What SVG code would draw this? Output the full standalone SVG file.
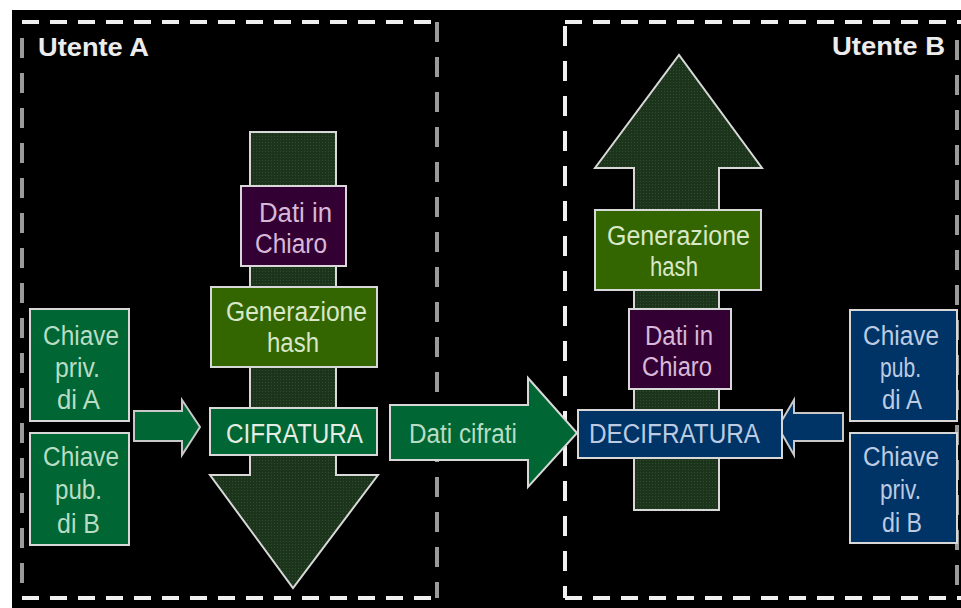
<svg xmlns="http://www.w3.org/2000/svg" width="961" height="608" viewBox="0 0 961 608">
<defs>
<pattern id="dots" width="3" height="3" patternUnits="userSpaceOnUse">
<rect width="3" height="3" fill="#1b341b"/>
<rect x="1" y="1" width="1" height="1" fill="#2e4e2e"/>
</pattern>
<style>
.bg{fill:#000}
.dh{stroke:#f0f0f0;stroke-width:4;stroke-dasharray:17 11;fill:none}
.dv{stroke-width:4;stroke-dasharray:20 15;fill:none}
.shaft{fill:url(#dots);stroke:#d8d8d8;stroke-width:2}
.box{stroke:#d8d8d8;stroke-width:2}
.green{fill:#006633}
.olive{fill:#336600}
.purple{fill:#330033}
.navy{fill:#003366}
.t{font-family:"Liberation Sans Narrow","Liberation Sans",Arial,sans-serif;font-size:27px}
.tg{fill:#b9dcc4}
.tw{fill:#e4ece4}
.to{fill:#d8e8c8}
.tp{fill:#d8b8d8}
.tn{fill:#bccbe2}
.title{font-family:"Liberation Sans",Arial,sans-serif;font-size:26px;font-weight:bold;fill:#ececec}
</style>
</defs>
<rect x="0" y="0" width="961" height="608" fill="#fff"/>
<rect class="bg" x="12" y="10" width="949" height="598"/>

<g id="utente-a">
<line class="dh" x1="22" y1="22" x2="437" y2="22"/>
<line class="dh" x1="22" y1="598" x2="437" y2="598"/>
<line class="dv" stroke="#9a9a9a" x1="22" y1="38" x2="22" y2="598"/>
<line class="dv" stroke="#9a9a9a" x1="437" y1="22" x2="437" y2="598"/>
<text class="title" x="38" y="56" textLength="111" lengthAdjust="spacingAndGlyphs">Utente A</text>
</g>

<g id="utente-b">
<line class="dh" x1="565" y1="22" x2="961" y2="22"/>
<line class="dh" x1="565" y1="598" x2="961" y2="598"/>
<line class="dv" stroke="#f0f0f0" x1="565" y1="26" x2="565" y2="598"/>
<line class="dv" stroke="#9a9a9a" x1="957" y1="40" x2="957" y2="598"/>
<text class="title" x="832" y="55" textLength="113" lengthAdjust="spacingAndGlyphs">Utente B</text>
</g>

<g id="connectors">
<path id="arrow-down" class="shaft" d="M250,132 H336 V475 H378 L293,588 L210,475 H250 Z"/>
<path id="arrow-up" class="shaft" d="M634,510 H719 V168 H762 L679,55 L595,168 H634 Z"/>
<path id="arrow-keys-a" class="green" stroke="#c8c8c8" stroke-width="2" d="M134,411 H182 V400 L200,427 L182,455 V441 H134 Z"/>
<path id="arrow-keys-b" class="navy" stroke="#c8c8c8" stroke-width="2" d="M843,413 H794 V400 L778,427 L794,455 V441 H843 Z"/>
</g>

<g id="dati-cifrati">
<path class="green" stroke="#d8d8d8" stroke-width="2" d="M390,405 H528 V378 L577,433 L528,487 V460 H390 Z"/>
<text class="t tg" x="409" y="443" textLength="108" lengthAdjust="spacingAndGlyphs">Dati cifrati</text>
</g>

<g id="dati-chiaro-a">
<rect class="box purple" x="241" y="186" width="105" height="80"/>
<text class="t tp" x="259" y="222" textLength="73" lengthAdjust="spacingAndGlyphs">Dati in</text>
<text class="t tp" x="255" y="253" textLength="72" lengthAdjust="spacingAndGlyphs">Chiaro</text>
</g>

<g id="hash-a">
<rect class="box olive" x="211" y="287" width="166" height="80"/>
<text class="t to" x="226" y="321" textLength="141" lengthAdjust="spacingAndGlyphs">Generazione</text>
<text class="t to" x="267" y="352" textLength="52" lengthAdjust="spacingAndGlyphs">hash</text>
</g>

<g id="cifratura">
<rect class="box green" x="210" y="408" width="167" height="47"/>
<text class="t tw" x="226" y="443" textLength="137" lengthAdjust="spacingAndGlyphs">CIFRATURA</text>
</g>

<g id="chiave-priv-a">
<rect class="box green" x="30" y="309" width="99" height="112"/>
<text class="t tg" x="43" y="345" textLength="76" lengthAdjust="spacingAndGlyphs">Chiave</text>
<text class="t tg" x="55" y="377" textLength="45" lengthAdjust="spacingAndGlyphs">priv.</text>
<text class="t tg" x="57" y="409" textLength="43" lengthAdjust="spacingAndGlyphs">di A</text>
</g>

<g id="chiave-pub-b">
<rect class="box green" x="30" y="433" width="99" height="112"/>
<text class="t tg" x="43" y="466" textLength="76" lengthAdjust="spacingAndGlyphs">Chiave</text>
<text class="t tg" x="55" y="499" textLength="47" lengthAdjust="spacingAndGlyphs">pub.</text>
<text class="t tg" x="57" y="533" textLength="43" lengthAdjust="spacingAndGlyphs">di B</text>
</g>

<g id="hash-b">
<rect class="box olive" x="595" y="210" width="166" height="80"/>
<text class="t to" x="607" y="245" textLength="143" lengthAdjust="spacingAndGlyphs">Generazione</text>
<text class="t to" x="650" y="276" textLength="48" lengthAdjust="spacingAndGlyphs">hash</text>
</g>

<g id="dati-chiaro-b">
<rect class="box purple" x="629" y="309" width="102" height="80"/>
<text class="t tp" x="645" y="345" textLength="68" lengthAdjust="spacingAndGlyphs">Dati in</text>
<text class="t tp" x="642" y="376" textLength="70" lengthAdjust="spacingAndGlyphs">Chiaro</text>
</g>

<g id="decifratura">
<rect class="box navy" x="578" y="410" width="204" height="48"/>
<text class="t tn" x="589" y="443" textLength="171" lengthAdjust="spacingAndGlyphs">DECIFRATURA</text>
</g>

<g id="chiave-pub-a">
<rect class="box navy" x="850" y="310" width="107" height="111"/>
<text class="t tn" x="863" y="345" textLength="76" lengthAdjust="spacingAndGlyphs">Chiave</text>
<text class="t tn" x="880" y="377" textLength="41" lengthAdjust="spacingAndGlyphs">pub.</text>
<text class="t tn" x="882" y="409" textLength="40" lengthAdjust="spacingAndGlyphs">di A</text>
</g>

<g id="chiave-priv-b">
<rect class="box navy" x="850" y="433" width="107" height="110"/>
<text class="t tn" x="863" y="466" textLength="76" lengthAdjust="spacingAndGlyphs">Chiave</text>
<text class="t tn" x="880" y="499" textLength="41" lengthAdjust="spacingAndGlyphs">priv.</text>
<text class="t tn" x="882" y="532" textLength="40" lengthAdjust="spacingAndGlyphs">di B</text>
</g>
</svg>
